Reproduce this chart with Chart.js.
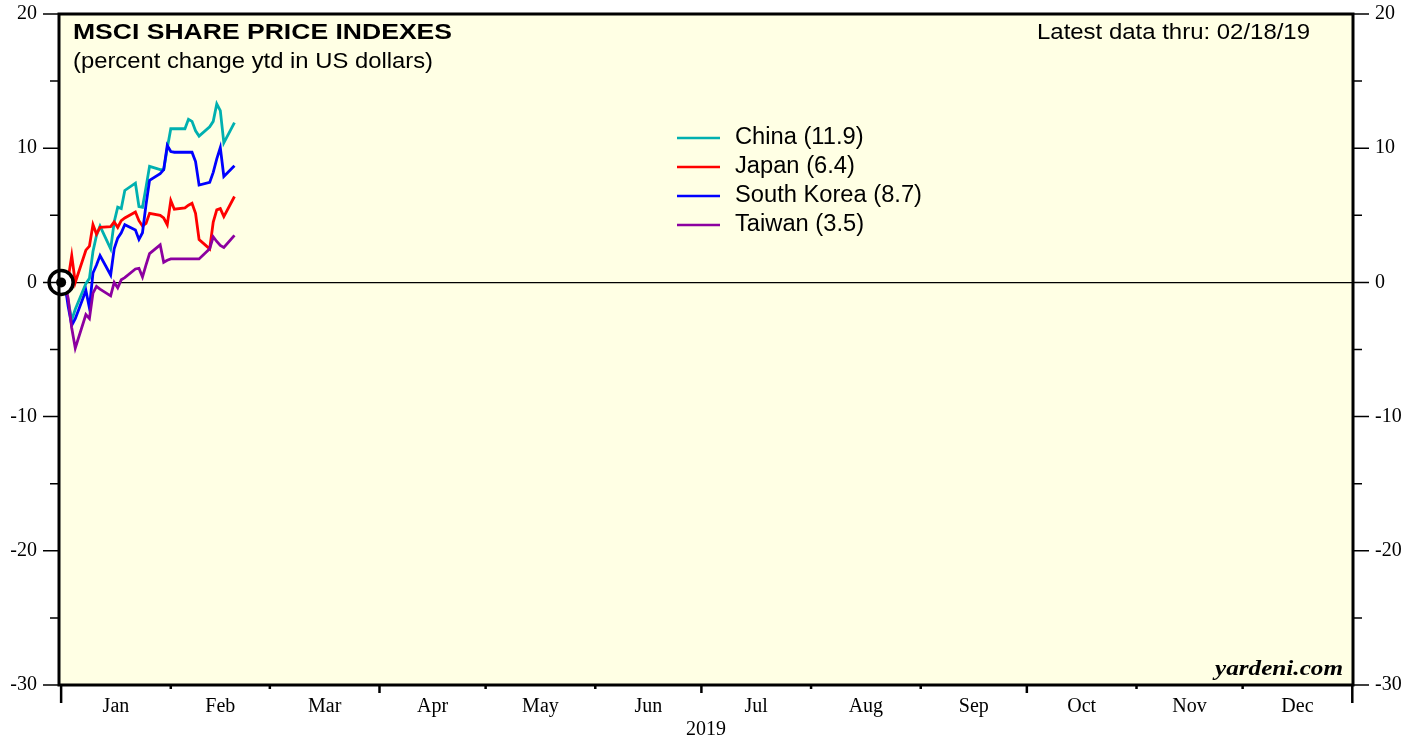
<!DOCTYPE html>
<html>
<head>
<meta charset="utf-8">
<script src="https://cdn.jsdelivr.net/npm/chart.js@4.4.1/dist/chart.umd.min.js"></script>
<style>
  html, body { margin: 0; padding: 0; background: #fff; }
</style>
</head>
<body>
<canvas id="chart" width="1421" height="742"></canvas>
<script>
// day of year (Dec 31 2018 = 0), weekdays only
const days = [0, 1, 2, 3, 4, 7, 8, 9, 10, 11, 14, 15, 16, 17, 18, 21, 22, 23, 24, 25,
  28, 29, 30, 31, 32, 35, 36, 37, 38, 39, 42, 43, 44, 45, 46, 49];

const china = [0, 0, -1.4, -2.8, -2.0, -0.1, 0.3, 2.3, 3.5, 4.2, 2.5, 4.5, 5.6, 5.5, 6.85,
  7.4, 5.65, 5.6, 7.1, 8.65, 8.4, 8.4, 10.0, 11.45, 11.45, 11.45, 12.15, 12.0, 11.3, 10.9,
  11.6, 12.0, 13.3, 12.8, 10.4, 11.9];
const japan = [0, 0, 0.3, 2.0, 0.0, 2.4, 2.7, 4.3, 3.6, 4.1, 4.15, 4.5, 4.1, 4.6, 4.8,
  5.25, 4.6, 4.2, 4.4, 5.15, 5.0, 4.8, 4.3, 6.1, 5.45, 5.55, 5.75, 5.9, 5.15, 3.2,
  2.5, 4.5, 5.4, 5.5, 4.9, 6.4];
const korea = [0, 0, -1.8, -3.2, -2.7, -0.6, -1.9, 0.7, 1.3, 2.0, 0.55, 2.5, 3.3, 3.7, 4.3,
  3.9, 3.2, 3.7, 5.8, 7.6, 8.1, 8.4, 10.2, 9.75, 9.7, 9.7, 9.7, 9.7, 9.0, 7.25,
  7.45, 8.2, 9.2, 10.05, 7.9, 8.7];
const taiwan = [0, 0, -1.2, -3.4, -4.9, -2.4, -2.7, -0.8, -0.3, -0.5, -1.0, 0.0, -0.4, 0.2, 0.35,
  1.0, 1.05, 0.4, 1.3, 2.15, 2.8, 1.5, 1.65, 1.75, 1.75, 1.75, 1.75, 1.75, 1.75, 1.75,
  2.5, 3.4, 3.05, 2.75, 2.6, 3.5];

const seriesNames = ['China', 'Japan', 'South Korea', 'Taiwan'];
const seriesColors = ['#00b0b0', '#ff0000', '#0000ff', '#8c00a0'];

const monthLabels = ['Jan', 'Feb', 'Mar', 'Apr', 'May', 'Jun', 'Jul', 'Aug', 'Sep', 'Oct', 'Nov', 'Dec'];
const monthStarts = [0, 31, 59, 90, 120, 151, 181, 212, 243, 273, 304, 334, 365];
const quarterStarts = [90, 181, 273];
const yTicks = [-30, -25, -20, -15, -10, -5, 0, 5, 10, 15, 20];

const originX = [0];
const originY = [0];

const monthMids = monthLabels.map((m, i) => (monthStarts[i] + monthStarts[i + 1]) / 2);

function toPoints(ys) {
  return ys.map((v, i) => ({ x: days[i], y: v }));
}

const serif = "'Liberation Serif', 'Times New Roman', serif";
const sans = "'Liberation Sans', Arial, sans-serif";

// text squeezed/stretched to a given width, as in the original picture
function txt(ctx, s, x, y, font, width, align) {
  ctx.save();
  ctx.font = font;
  ctx.fillStyle = '#000';
  ctx.textBaseline = 'middle';
  ctx.textAlign = align || 'left';
  const sx = width ? width / ctx.measureText(s).width : 1;
  ctx.translate(x, y);
  ctx.scale(sx, 1);
  ctx.fillText(s, 0, 0);
  ctx.restore();
  return sx;
}

const decor = {
  id: 'decor',
  beforeDraw(chart) {
    const { ctx, chartArea: a } = chart;
    ctx.save();
    ctx.fillStyle = '#fff';
    ctx.fillRect(0, 0, chart.width, chart.height);
    ctx.fillStyle = '#ffffe4';
    ctx.fillRect(a.left, a.top, a.right - a.left, a.bottom - a.top);
    ctx.restore();
  },
  afterDraw(chart) {
    const { ctx, chartArea: a, scales } = chart;
    const xs = scales.x, ys = scales.y;
    ctx.save();
    ctx.strokeStyle = '#000';

    // y tick marks both sides
    ctx.lineWidth = 1.5;
    yTicks.forEach(v => {
      const py = ys.getPixelForValue(v);
      const len = v % 10 === 0 ? 16 : 9;
      ctx.beginPath();
      ctx.moveTo(a.left - len, py); ctx.lineTo(a.left, py);
      ctx.moveTo(a.right, py); ctx.lineTo(a.right + len, py);
      ctx.stroke();
    });

    // month boundary ticks
    ctx.lineWidth = 2.5;
    monthStarts.forEach((d, i) => {
      const px = Math.max(a.left + 2, Math.min(a.right, xs.getPixelForValue(d)));
      let len = 4;
      if (quarterStarts.includes(d)) len = 8;
      if (i === 0 || i === monthStarts.length - 1) len = 18;
      ctx.beginPath();
      ctx.moveTo(px, a.bottom); ctx.lineTo(px, a.bottom + len);
      ctx.stroke();
    });

    // frame
    ctx.lineWidth = 3;
    ctx.strokeRect(a.left, a.top, a.right - a.left, a.bottom - a.top);

    // titles
    txt(ctx, 'MSCI SHARE PRICE INDEXES', 73, 33, 'bold 22px ' + sans, 379);
    txt(ctx, '(percent change ytd in US dollars)', 73, 62, '22px ' + sans, 360);
    txt(ctx, 'Latest data thru: 02/18/19', 1310, 33, '22px ' + sans, 273, 'right');
    txt(ctx, 'yardeni.com', 1343, 670, 'italic bold 21px ' + serif, 128, 'right');

    // legend
    ctx.font = '23px ' + sans;
    const sx = 187 / ctx.measureText('South Korea (8.7)').width;
    const series = [china, japan, korea, taiwan];
    seriesNames.forEach((n, i) => {
      const y = 138 + i * 29;
      ctx.strokeStyle = seriesColors[i];
      ctx.lineWidth = 2.5;
      ctx.beginPath();
      ctx.moveTo(677, y); ctx.lineTo(720, y);
      ctx.stroke();
      const label = n + ' (' + series[i][series[i].length - 1].toFixed(1) + ')';
      ctx.font = '23px ' + sans;
      const w = ctx.measureText(label).width * sx;
      txt(ctx, label, 735, y, '23px ' + sans, w);
    });
    ctx.restore();
  }
};

const lineDs = (label, ys, color, order) => ({
  label: label,
  data: toPoints(ys),
  borderColor: color,
  borderWidth: 2.8,
  pointRadius: 0,
  tension: 0,
  fill: false,
  order: order
});

const tickFont = { family: serif, size: 20 };

new Chart(document.getElementById('chart'), {
  type: 'line',
  data: {
    datasets: [
      lineDs('China', china, seriesColors[0], 5),
      lineDs('Japan', japan, seriesColors[1], 4),
      lineDs('South Korea', korea, seriesColors[2], 3),
      lineDs('Taiwan', taiwan, seriesColors[3], 2),
      {
        label: 'base',
        data: originX.map((x, i) => ({ x: x, y: originY[i] })),
        showLine: false,
        clip: false,
        pointRadius: 12,
        pointBackgroundColor: '#fff',
        pointBorderColor: '#000',
        pointBorderWidth: 3.5,
        order: 1
      },
      {
        label: 'base dot',
        data: originX.map((x, i) => ({ x: x, y: originY[i] })),
        showLine: false,
        clip: false,
        pointRadius: 5,
        pointBackgroundColor: '#000',
        pointBorderWidth: 0,
        order: 0
      }
    ]
  },
  options: {
    responsive: false,
    animation: false,
    layout: { autoPadding: false, padding: { top: 14, left: 0, right: 0, bottom: 0 } },
    plugins: { legend: { display: false }, tooltip: { enabled: false } },
    scales: {
      x: {
        type: 'linear',
        min: -0.6,
        max: 365.2,
        afterBuildTicks: s => { s.ticks = monthMids.map(v => ({ value: v })); },
        afterFit: s => { s.height = 57; },
        grid: { display: false, drawTicks: false },
        border: { display: false },
        ticks: {
          autoSkip: false, maxRotation: 0, padding: 10, color: '#000', font: tickFont,
          callback: (v, i) => monthLabels[i]
        },
        title: { display: true, text: '2019', color: '#000', font: tickFont, padding: 0 }
      },
      y: {
        position: 'left',
        min: -30,
        max: 20,
        afterBuildTicks: s => { s.ticks = yTicks.map(v => ({ value: v })); },
        afterFit: s => { s.width = 59; },
        grid: {
          drawTicks: true,
          tickLength: 22,
          tickColor: 'rgba(0,0,0,0)',
          lineWidth: 1.2,
          color: c => (c.tick && c.tick.value === 0 ? '#000' : 'rgba(0,0,0,0)')
        },
        border: { display: false },
        ticks: { padding: 0, color: '#000', font: tickFont, callback: v => (v % 10 === 0 ? v : '') }
      },
      y2: {
        position: 'right',
        min: -30,
        max: 20,
        afterBuildTicks: s => { s.ticks = yTicks.map(v => ({ value: v })); },
        afterFit: s => { s.width = 68; },
        grid: { display: false, drawTicks: true, tickLength: 22 },
        border: { display: false },
        ticks: { padding: 0, color: '#000', font: tickFont, callback: v => (v % 10 === 0 ? v : '') }
      }
    }
  },
  plugins: [decor]
});
</script>
</body>
</html>
